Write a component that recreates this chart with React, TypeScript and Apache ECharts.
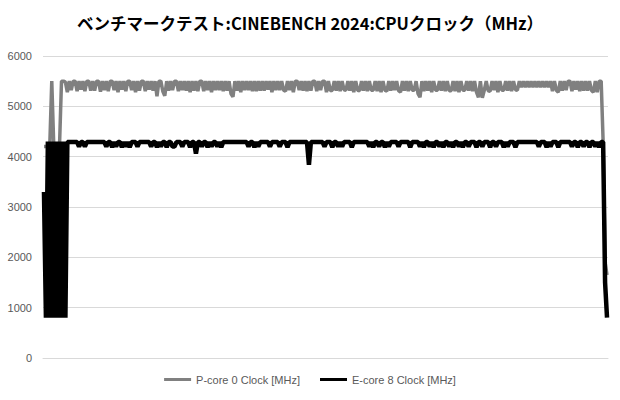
import * as echarts from "echarts";
import { useEffect, useRef } from "react";

const titleText = "ベンチマークテスト:CINEBENCH 2024:CPUクロック（MHz）";
const seriesNames = ["P-core 0 Clock [MHz]", "E-core 8 Clock [MHz]"];
const yTicks = [0, 1000, 2000, 3000, 4000, 5000, 6000];

// P-core 0 clock, one value per logged sample
const pCore = [
  4200, 4200, 4200, 4250, 5500, 4250, 4200, 4200, 4250, 5500,
  5500, 5480, 5280, 5500, 5320, 5500, 5500, 5300, 5500, 5330,
  5500, 5300, 5500, 5500, 5310, 5500, 5310, 5500, 5500, 5290,
  5500, 5320, 5500, 5300, 5500, 5500, 5320, 5500, 5280, 5500,
  5330, 5500, 5300, 5500, 5500, 5320, 5500, 5280, 5500, 5310,
  5500, 5500, 5300, 5500, 5330, 5500, 5310, 5500, 5200, 5500,
  5500, 5300, 5210, 5500, 5310, 5500, 5320, 5500, 5500, 5300,
  5500, 5320, 5500, 5310, 5500, 5280, 5500, 5310, 5500, 5300,
  5500, 5500, 5300, 5500, 5320, 5500, 5280, 5500, 5320, 5500,
  5320, 5500, 5300, 5500, 5310, 5500, 5250, 5190, 5500, 5310,
  5500, 5280, 5500, 5320, 5500, 5320, 5500, 5300, 5500, 5300,
  5500, 5310, 5500, 5310, 5500, 5330, 5500, 5280, 5500, 5320,
  5500, 5320, 5500, 5320, 5300, 5500, 5320, 5500, 5280, 5500,
  5500, 5320, 5500, 5310, 5500, 5300, 5500, 5310, 5500, 5500,
  5300, 5500, 5320, 5500, 5500, 5280, 5500, 5310, 5320, 5500,
  5310, 5500, 5300, 5500, 5330, 5320, 5500, 5310, 5500, 5280,
  5500, 5320, 5310, 5500, 5310, 5500, 5300, 5500, 5320, 5320,
  5500, 5300, 5500, 5280, 5500, 5320, 5300, 5500, 5310, 5500,
  5320, 5500, 5310, 5280, 5500, 5310, 5500, 5300, 5500, 5320,
  5320, 5500, 5250, 5180, 5500, 5300, 5500, 5310, 5500, 5280,
  5500, 5320, 5320, 5500, 5310, 5500, 5300, 5500, 5310, 5310,
  5500, 5300, 5500, 5280, 5500, 5320, 5320, 5500, 5310, 5500,
  5300, 5500, 5280, 5180, 5500, 5170, 5320, 5500, 5310, 5300,
  5500, 5320, 5500, 5280, 5500, 5320, 5320, 5500, 5310, 5500,
  5300, 5500, 5330, 5320, 5500, 5380, 5500, 5380, 5500, 5380,
  5500, 5380, 5500, 5380, 5500, 5380, 5500, 5380, 5500, 5380,
  5500, 5300, 5500, 5320, 5280, 5500, 5310, 5500, 5320, 5500,
  5500, 5300, 5500, 5330, 5500, 5300, 5500, 5310, 5500, 5310,
  5500, 5320, 5280, 5500, 5280, 5500, 5500, 4300, 1900, 1650,
];

// E-core 8 clock
const eCore = [
  3300, 800, 4300, 800, 4300, 800, 4300, 800, 4300, 800,
  4300, 800, 4290, 4290, 4290, 4290, 4290, 4290, 4200, 4290,
  4290, 4200, 4290, 4290, 4290, 4290, 4290, 4290, 4290, 4290,
  4290, 4290, 4200, 4290, 4290, 4190, 4290, 4200, 4290, 4290,
  4190, 4290, 4200, 4290, 4190, 4290, 4290, 4290, 4200, 4290,
  4290, 4290, 4290, 4290, 4290, 4200, 4290, 4290, 4190, 4290,
  4200, 4290, 4290, 4190, 4290, 4290, 4200, 4200, 4290, 4290,
  4290, 4200, 4290, 4290, 4290, 4190, 4290, 4290, 4060, 4290,
  4290, 4200, 4290, 4290, 4190, 4290, 4200, 4290, 4290, 4200,
  4290, 4190, 4290, 4290, 4290, 4290, 4290, 4290, 4290, 4290,
  4290, 4290, 4290, 4290, 4290, 4200, 4290, 4290, 4190, 4290,
  4200, 4290, 4290, 4290, 4290, 4290, 4200, 4290, 4290, 4290,
  4290, 4200, 4290, 4290, 4290, 4190, 4290, 4290, 4290, 4290,
  4290, 4290, 4290, 4290, 4290, 4290, 3840, 4290, 4290, 4290,
  4290, 4290, 4290, 4290, 4200, 4290, 4290, 4290, 4190, 4290,
  4290, 4200, 4290, 4200, 4290, 4290, 4290, 4290, 4190, 4290,
  4290, 4290, 4290, 4290, 4290, 4290, 4290, 4200, 4290, 4190,
  4290, 4290, 4200, 4290, 4290, 4190, 4290, 4200, 4290, 4290,
  4290, 4290, 4200, 4290, 4290, 4290, 4290, 4290, 4190, 4290,
  4290, 4290, 4290, 4200, 4290, 4190, 4290, 4290, 4200, 4290,
  4190, 4290, 4290, 4200, 4290, 4190, 4290, 4290, 4200, 4290,
  4190, 4290, 4290, 4200, 4290, 4190, 4290, 4290, 4200, 4290,
  4290, 4290, 4190, 4290, 4290, 4200, 4290, 4290, 4290, 4190,
  4290, 4290, 4200, 4290, 4290, 4290, 4190, 4290, 4200, 4290,
  4290, 4290, 4190, 4290, 4290, 4290, 4290, 4290, 4290, 4290,
  4290, 4290, 4290, 4290, 4200, 4290, 4290, 4290, 4190, 4290,
  4200, 4290, 4290, 4290, 4190, 4290, 4290, 4290, 4290, 4290,
  4290, 4200, 4290, 4290, 4190, 4290, 4290, 4200, 4290, 4290,
  4190, 4290, 4290, 4200, 4290, 4190, 4290, 4290, 1500, 800,
];

const samples = pCore.map((_, i) => String(i + 1));

const labelFont = "'Liberation Sans', 'Noto Sans', sans-serif";

export default function App() {
  const chartRef = useRef<HTMLDivElement>(null);

  useEffect(() => {
    if (!chartRef.current) return;
    const chart = echarts.init(chartRef.current, undefined, { renderer: "svg" });

    chart.setOption({
      animation: false,
      backgroundColor: "#ffffff",
      title: {
        text: titleText,
        left: "center",
        top: 10,
        textStyle: {
          fontFamily: "'Noto Sans CJK JP', sans-serif",
          fontSize: 16.5,
          fontWeight: "bold",
          color: "#000000",
        },
      },
      legend: {
        bottom: 10,
        left: "center",
        icon: "rect",
        itemWidth: 27,
        itemHeight: 3,
        itemGap: 20,
        data: seriesNames,
        textStyle: { fontFamily: labelFont, fontSize: 11, color: "#595959" },
      },
      grid: { left: 43, right: 12, top: 56, bottom: 42 },
      xAxis: {
        type: "category",
        data: samples,
        boundaryGap: true,
        axisLine: { show: true, lineStyle: { color: "#d9d9d9", width: 1 } },
        axisTick: { show: false },
        axisLabel: { show: false },
        splitLine: { show: false },
      },
      yAxis: {
        type: "value",
        min: yTicks[0],
        max: yTicks[yTicks.length - 1],
        interval: 1000,
        axisLine: { show: false },
        axisTick: { show: false },
        axisLabel: {
          margin: 11,
          fontFamily: labelFont,
          fontSize: 11,
          color: "#595959",
          formatter: (v: number) => String(v),
        },
        splitLine: { lineStyle: { color: "#d9d9d9", width: 1 } },
      },
      series: [
        {
          name: seriesNames[0],
          type: "line",
          data: pCore,
          symbol: "none",
          color: "#808080",
          lineStyle: { color: "#808080", width: 3.5 },
          silent: true,
        },
        {
          name: seriesNames[1],
          type: "line",
          data: eCore,
          symbol: "none",
          color: "#000000",
          lineStyle: { color: "#000000", width: 4.5 },
          silent: true,
        },
      ],
    });

    return () => chart.dispose();
  }, []);

  return (
    <div
      ref={chartRef}
      style={{ position: "absolute", left: 0, top: 0, width: 620, height: 400 }}
    />
  );
}
